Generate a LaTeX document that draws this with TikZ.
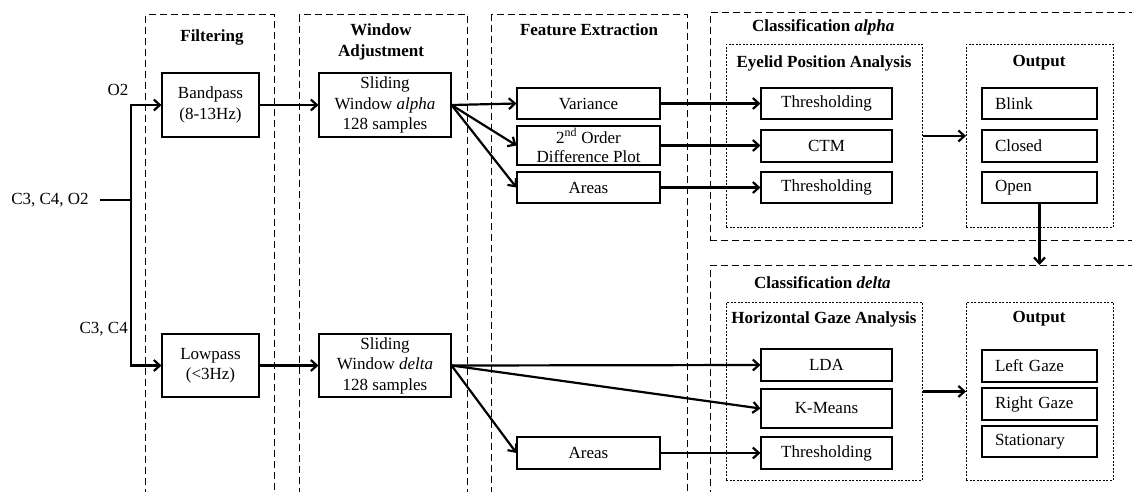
\documentclass[tikz,border=0pt]{standalone}
\usepackage{fontspec}
\setmainfont{Liberation Serif}
\usetikzlibrary{arrows.meta}
\begin{document}
\begin{tikzpicture}[x=1pt,y=-1pt, font=\fontsize{17}{20.5}\selectfont,
  box/.style={draw, line width=1.1pt, inner sep=0pt, align=center},
  obox/.style={draw, line width=1.1pt, inner xsep=13pt, inner ysep=0pt, align=left, text width=89pt, minimum height=#1},
  col/.style={draw, line width=1pt, dash pattern=on 7pt off 4pt, inner sep=0pt, anchor=north west},
  grp/.style={draw, line width=0.9pt, dash pattern=on 2pt off 1.5pt, inner sep=0pt, anchor=north west},
  arr/.style={line width=2.2pt, -{Straight Barb[length=6pt,width=11pt]}},
  ln/.style={line width=2.2pt},
  ttl/.style={font=\fontsize{17}{20.5}\selectfont\bfseries, align=center}]
\useasboundingbox (0,0) rectangle (1132,491);
\clip (0,0) rectangle (1132,491);

% column containers
\node[col, minimum width=129pt, minimum height=500pt] (filt) at (145,14) {};
\node[col, minimum width=168pt, minimum height=500pt] (wadj) at (299,14) {};
\node[col, minimum width=196pt, minimum height=500pt] (fext) at (491,14) {};
\node[col, minimum width=440pt, minimum height=228pt] (ca) at (709.5,12) {};
\node[col, minimum width=440pt, minimum height=260pt] (cd) at (709.5,265) {};
\node[grp, minimum width=196pt, minimum height=183pt] (epa) at (726,44) {};
\node[grp, minimum width=147pt, minimum height=183pt] (out1) at (966,44) {};
\node[grp, minimum width=196pt, minimum height=178pt] (hga) at (726,302) {};
\node[grp, minimum width=147pt, minimum height=178pt] (out2) at (966,302) {};

% titles
\node[ttl] (tfilt) at (212,37) {Filtering};
\node[ttl] (twadj) at (381,42) {Window\\Adjustment};
\node[ttl] (tfext) at (589,30) {Feature Extraction};
\node[ttl, anchor=west, inner sep=0pt] (tca) at (752,27) {Classification \textit{alpha}};
\node[ttl, anchor=west, inner sep=0pt] (tcd) at (754,283) {Classification \textit{delta}};
\node[ttl] (tepa) at (824,63) {Eyelid Position Analysis};
\node[ttl] (tout1) at (1039,63) {Output};
\node[ttl] (thga) at (824,319) {Horizontal Gaze Analysis};
\node[ttl] (tout2) at (1039,319) {Output};

% inputs
\node[inner ysep=0pt, inner xsep=11pt] (in) at (50,200) {C3, C4, O2};
\coordinate (j) at (131,200);
\node (lo2) at (118,90) {O2};
\node[anchor=east, inner sep=0pt] (lc) at (128,329) {C3, C4};

% blocks
\node[box, minimum width=97pt, minimum height=64pt] (bp) at (210.5,105) {Bandpass\\(8-13Hz)};
\node[box, minimum width=97pt, minimum height=63pt] (lp) at (210.5,365.5) {Lowpass\\(<3Hz)};
\node[box, minimum width=132pt, minimum height=64pt] (swa) at (385,105) {Sliding\\Window \textit{alpha}\\128 samples};
\node[box, minimum width=132pt, minimum height=63pt] (swd) at (385,365.5) {Sliding\\Window \textit{delta}\\128 samples};

\node[box, minimum width=143pt, minimum height=31pt] (var) at (588.5,103.5) {Variance};
\node[box, minimum width=143pt, minimum height=39pt, font=\fontsize{17}{19}\selectfont] (dif) at (588.5,145.5) {2\textsuperscript{nd} Order\\Difference Plot};
\node[box, minimum width=143pt, minimum height=31pt] (ara) at (588.5,187.5) {Areas};
\node[box, minimum width=143pt, minimum height=32pt] (arb) at (588.5,453) {Areas};

\node[box, minimum width=131pt, minimum height=31pt] (th1) at (826.5,103.5) {Thresholding};
\node[box, minimum width=131pt, minimum height=32pt] (ctm) at (826.5,146) {CTM};
\node[box, minimum width=131pt, minimum height=31pt] (th2) at (826.5,187.5) {Thresholding};
\node[box, minimum width=131pt, minimum height=32pt] (lda) at (826.5,365) {LDA};
\node[box, minimum width=131pt, minimum height=39pt] (km) at (826.5,408.5) {K-Means};
\node[box, minimum width=131pt, minimum height=32pt] (th3) at (826.5,453) {Thresholding};

\node[obox=31pt] (blink) at (1039.5,103.5) {Blink};
\node[obox=32pt] (closed) at (1039.5,146) {Closed};
\node[obox=31pt] (open) at (1039.5,187.5) {Open};
\node[obox=32pt] (lg) at (1039.5,366) {Left Gaze};
\node[obox=32pt] (rg) at (1039.5,404) {Right Gaze};
\node[obox=31pt] (st) at (1039.5,441.5) {Stationary};

% connectors
\draw[ln] (in.east) -- (j);
\draw[arr] (j) |- (bp.west);
\draw[arr] (j) |- (lp.west);
\draw[arr] (bp) -- (swa);
\draw[arr] (lp) -- (swd);
\draw[arr] (swa.east) -- (var.west);
\draw[arr] (swa.east) -- (dif.west);
\draw[arr] (swa.east) -- (ara.west);
\draw[arr] (swd.east) -- (lda.west);
\draw[arr] (swd.east) -- (km.west);
\draw[arr] (swd.east) -- (arb.west);
\draw[arr] (var) -- (th1);
\draw[arr] (dif.east) -- (dif.east -| ctm.west);
\draw[arr] (ara) -- (th2);
\draw[arr] (arb) -- (th3);
\draw[arr] (epa) -- (out1);
\draw[arr] (hga) -- (out2);
\draw[arr] (open.south) -- (open.south |- cd.north);
\end{tikzpicture}
\end{document}
